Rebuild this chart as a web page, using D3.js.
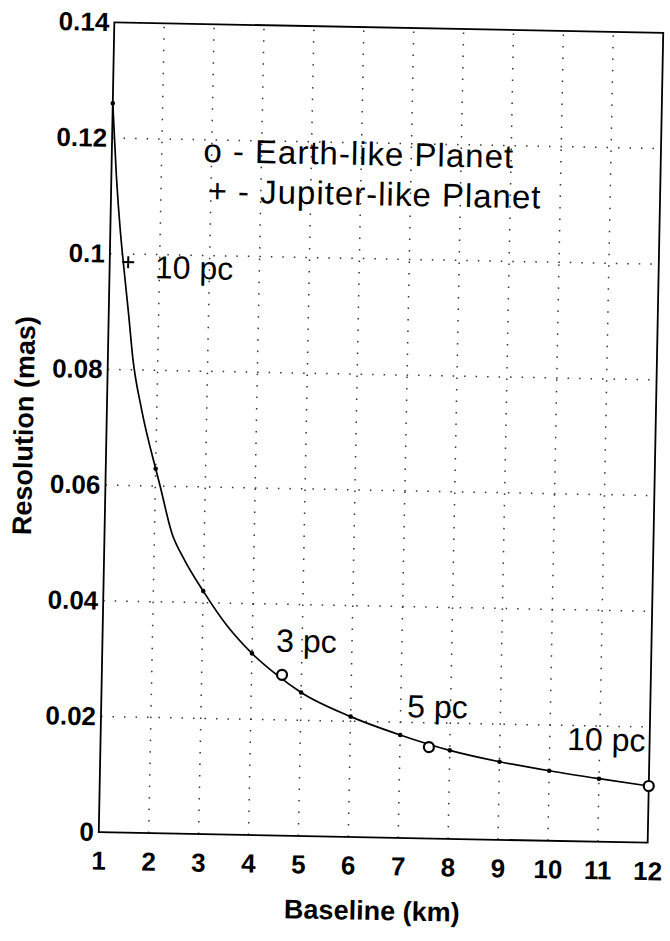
<!DOCTYPE html>
<html>
<head>
<meta charset="utf-8">
<script src="https://cdn.jsdelivr.net/npm/d3@7"></script>
<style>
    body { margin: 0; background: #fff; }
    svg { display: block; font-family: "Liberation Sans", Arial, Helvetica, sans-serif; }
</style>
</head>
<body>
<svg id="chart" width="670" height="941"></svg>
<script>
// resolution curve (baseline km -> mas)
var curveBaseline = [1, 1.1, 1.2, 1.27, 1.4, 1.5, 1.7, 2, 2.09, 2.35, 2.6, 3, 3.5, 4, 4.5, 5, 6, 7, 8, 9, 10, 11, 12];
var curveResolution = [0.126, 0.1135, 0.104, 0.0987, 0.0895, 0.082, 0.073, 0.063, 0.0602, 0.0519, 0.0475, 0.042, 0.036,
    0.0314, 0.0278, 0.0248, 0.0208, 0.0178, 0.0153, 0.0135, 0.0121, 0.0109, 0.0098];

// small dot markers at each whole km
var dotBaseline = [1, 2, 3, 4, 5, 6, 7, 8, 9, 10, 11, 12];
var dotResolution = [0.126, 0.063, 0.042, 0.0314, 0.0248, 0.0208, 0.0178, 0.0153, 0.0135, 0.0121, 0.0109, 0.0098];

// earth-like planets (o) and jupiter-like planet (+)
var earthBaseline = [4.61, 7.58, 12];
var earthResolution = [0.0278, 0.0158, 0.0098];
var earthLabels = ["3 pc", "5 pc", "10 pc"];
var jupiterBaseline = [1.37];
var jupiterResolution = [0.0986];
var jupiterLabels = ["10 pc"];

var xTicks = [1, 2, 3, 4, 5, 6, 7, 8, 9, 10, 11, 12];
var yTicks = [0, 0.02, 0.04, 0.06, 0.08, 0.1, 0.12, 0.14];
var legendLines = ["o - Earth-like Planet", "+ - Jupiter-like Planet"];

var svg = d3.select("#chart");

var plotLeft = 106.5, plotRight = 655.5, plotTop = 27.5, plotBottom = 837.5;
var cx = (plotLeft + plotRight) / 2, cy = (plotTop + plotBottom) / 2;

// the scanned page sits a little crooked, so tilt the whole figure
var g = svg.append("g")
    .attr("transform", "rotate(1.1," + cx + "," + cy + ")");

var x = d3.scaleLinear().domain([1, 12]).range([plotLeft, plotRight]);
var y = d3.scaleLinear().domain([0, 0.14]).range([plotBottom, plotTop]);

// dotted grid
g.append("g")
    .selectAll("line")
    .data(xTicks.slice(1, -1))
    .enter()
    .append("line")
    .attr("x1", function (d) { return x(d); })
    .attr("x2", function (d) { return x(d); })
    .attr("y1", plotBottom)
    .attr("y2", plotTop)
    .attr("stroke", "#333")
    .attr("stroke-width", 1.5)
    .attr("stroke-dasharray", "1.5,10");

g.append("g")
    .selectAll("line")
    .data(yTicks.slice(1, -1))
    .enter()
    .append("line")
    .attr("x1", plotLeft)
    .attr("x2", plotRight)
    .attr("y1", function (d) { return y(d); })
    .attr("y2", function (d) { return y(d); })
    .attr("stroke", "#333")
    .attr("stroke-width", 1.5)
    .attr("stroke-dasharray", "1.5,10");

// axes, no tick marks, labels only
var xAxis = g.append("g")
    .attr("transform", "translate(0," + plotBottom + ")")
    .call(d3.axisBottom(x).tickValues(xTicks).tickSize(0).tickPadding(19).tickFormat(d3.format("d")));

var yAxis = g.append("g")
    .attr("transform", "translate(" + plotLeft + ",0)")
    .call(d3.axisLeft(y).tickValues(yTicks).tickSize(0).tickPadding(5).tickFormat(function (d) {
        return d === 0 ? "0" : String(+d.toFixed(2));
    }));

[xAxis, yAxis].forEach(function (a) {
    a.select(".domain").remove();
    a.selectAll("text")
        .attr("font-family", "Liberation Sans, Arial, sans-serif")
        .attr("font-size", "26px")
        .attr("font-weight", "bold")
        .attr("fill", "#000");
});
xAxis.selectAll("text").attr("dy", "0.71em");

// box
g.append("rect")
    .attr("x", plotLeft)
    .attr("y", plotTop)
    .attr("width", plotRight - plotLeft)
    .attr("height", plotBottom - plotTop)
    .attr("fill", "none")
    .attr("stroke", "#000")
    .attr("stroke-width", 1.8);

// curve
var line = d3.line()
    .x(function (d) { return x(d[0]); })
    .y(function (d) { return y(d[1]); })
    .curve(d3.curveMonotoneX);

g.append("path")
    .datum(d3.zip(curveBaseline, curveResolution))
    .attr("d", line)
    .attr("fill", "none")
    .attr("stroke", "#000")
    .attr("stroke-width", 1.7);

g.append("g")
    .selectAll("circle")
    .data(d3.zip(dotBaseline, dotResolution))
    .enter()
    .append("circle")
    .attr("cx", function (d) { return x(d[0]); })
    .attr("cy", function (d) { return y(d[1]); })
    .attr("r", 2.3)
    .attr("fill", "#000");

// earth-like planets
g.append("g")
    .selectAll("circle")
    .data(d3.zip(earthBaseline, earthResolution))
    .enter()
    .append("circle")
    .attr("cx", function (d) { return x(d[0]); })
    .attr("cy", function (d) { return y(d[1]); })
    .attr("r", 5)
    .attr("fill", "#fff")
    .attr("stroke", "#000")
    .attr("stroke-width", 2.2);

// jupiter-like planet
g.append("g")
    .selectAll("path")
    .data(d3.zip(jupiterBaseline, jupiterResolution))
    .enter()
    .append("path")
    .attr("d", function (d) {
        var px = x(d[0]), py = y(d[1]), s = 6;
        return "M" + (px - s) + "," + py + "H" + (px + s) + "M" + px + "," + (py - s) + "V" + (py + s);
    })
    .attr("stroke", "#000")
    .attr("stroke-width", 2);

// distance labels
var labelPos = [[4.48, 0.0318], [7.13, 0.0209], [10.35, 0.01575]];
g.append("g")
    .selectAll("text")
    .data(earthLabels)
    .enter()
    .append("text")
    .attr("x", function (d, i) { return x(labelPos[i][0]); })
    .attr("y", function (d, i) { return y(labelPos[i][1]); })
    .attr("font-size", "32px")
    .text(function (d) { return d; });

g.append("text")
    .attr("x", x(1.91))
    .attr("y", y(0.0959))
    .attr("font-size", "32px")
    .text(jupiterLabels[0]);

// legend text
g.append("g")
    .selectAll("text")
    .data(legendLines)
    .enter()
    .append("text")
    .attr("x", function (d, i) { return i === 0 ? 198 : 203; })
    .attr("y", function (d, i) { return i === 0 ? 165.5 : 205.5; })
    .attr("font-size", "33px")
    .attr("letter-spacing", "1px")
    .text(function (d) { return d; });

// axis titles
g.append("text")
    .attr("x", cx)
    .attr("y", 920)
    .attr("text-anchor", "middle")
    .attr("font-size", "27px")
    .attr("font-weight", "bold")
    .text("Baseline (km)");

g.append("text")
    .attr("transform", "translate(33," + cy + ") rotate(-90)")
    .attr("text-anchor", "middle")
    .attr("font-size", "27px")
    .attr("font-weight", "bold")
    .text("Resolution (mas)");
</script>
</body>
</html>
